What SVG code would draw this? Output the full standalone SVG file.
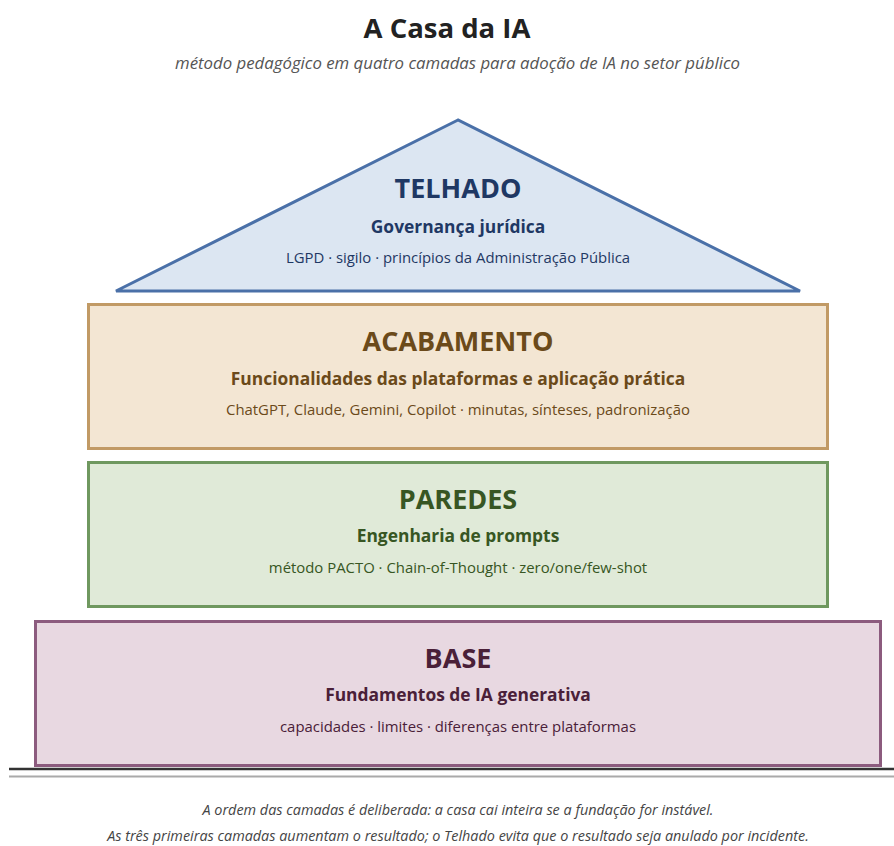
<svg xmlns="http://www.w3.org/2000/svg" width="894" height="846" viewBox="0 0 894 846">
<style>
text{font-family:"Open Sans","Noto Sans","Liberation Sans",sans-serif;text-anchor:middle}
.title{font-size:27.5px;font-weight:700;fill:#222}
.sub{font-size:16.8px;font-style:italic;fill:#555}
.h{font-size:27px;font-weight:700}
.s{font-size:17.4px;font-weight:700}
.d{font-size:14.9px}
.foot{font-size:14.4px;font-style:italic;fill:#444}
.roof{fill:#dce6f2;stroke:#4a70a8;stroke-width:3;stroke-linejoin:miter}
</style>
<rect width="894" height="846" fill="#fff"/>
<text class="title" x="447" y="38">A Casa da IA</text>
<text class="sub" x="457.5" y="69">método pedagógico em quatro camadas para adoção de IA no setor público</text>

<g id="telhado">
<polygon class="roof" points="458,120 116,291 800,291"/>
<text class="h" x="458" y="198" fill="#1f3864">TELHADO</text>
<text class="s" x="458" y="233" fill="#1f3864">Governança jurídica</text>
<text class="d" x="458" y="263" fill="#1f3864">LGPD · sigilo · princípios da Administração Pública</text>
</g>

<g id="acabamento">
<rect x="88.5" y="304.5" width="739" height="144" fill="#f3e6d3" stroke="#c19a65" stroke-width="3"/>
<text class="h" x="458" y="351" fill="#6b4a1a">ACABAMENTO</text>
<text class="s" x="458" y="385" fill="#6b4a1a">Funcionalidades das plataformas e aplicação prática</text>
<text class="d" x="458" y="415" fill="#6b4a1a">ChatGPT, Claude, Gemini, Copilot · minutas, sínteses, padronização</text>
</g>

<g id="paredes">
<rect x="88.5" y="462.5" width="739" height="144" fill="#e0ead8" stroke="#6f985f" stroke-width="3"/>
<text class="h" x="458" y="509" fill="#375623">PAREDES</text>
<text class="s" x="458" y="542" fill="#375623">Engenharia de prompts</text>
<text class="d" x="458" y="573" fill="#375623">método PACTO · Chain-of-Thought · zero/one/few-shot</text>
</g>

<g id="base">
<rect x="35.5" y="621.5" width="845" height="144" fill="#e8d8e1" stroke="#8c5b7e" stroke-width="3"/>
<text class="h" x="458" y="668" fill="#4a2038">BASE</text>
<text class="s" x="458" y="701" fill="#4a2038">Fundamentos de IA generativa</text>
<text class="d" x="458" y="732" fill="#4a2038">capacidades · limites · diferenças entre plataformas</text>
</g>

<g id="ground">
<line x1="9" y1="769" x2="894" y2="769" stroke="#333" stroke-width="2.5"/>
<line x1="9" y1="776.5" x2="894" y2="776.5" stroke="#aaa" stroke-width="2"/>
</g>

<text class="foot" x="458" y="815">A ordem das camadas é deliberada: a casa cai inteira se a fundação for instável.</text>
<text class="foot" x="458" y="841">As três primeiras camadas aumentam o resultado; o Telhado evita que o resultado seja anulado por incidente.</text>
</svg>
